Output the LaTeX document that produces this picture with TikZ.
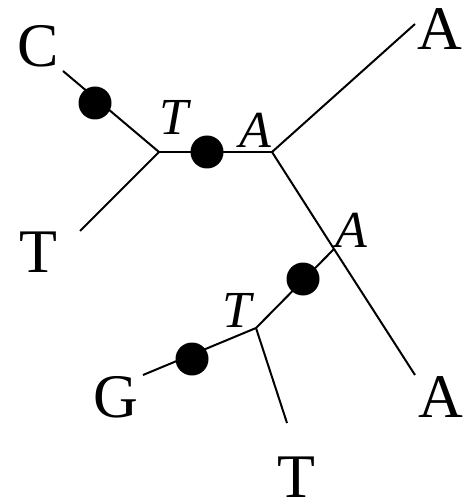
\documentclass[tikz,border=0pt]{standalone}
\usepackage{fontspec}
\setmainfont{Liberation Serif}
\begin{document}
\begin{tikzpicture}[x=1pt,y=-1pt,
  edge/.style={line width=2pt},
  dotmark/.style={circle,fill=black,inner sep=0pt,minimum size=33pt},
  leaf/.style={inner sep=0pt,anchor=base,font=\fontsize{62}{70}\selectfont},
  anc/.style={inner sep=0pt,anchor=base,font=\fontsize{52}{60}\selectfont\itshape}]
\useasboundingbox (0,0) rectangle (466,502);
% internal nodes
\coordinate (n1) at (159,152);
\coordinate (n2) at (272,152);
\coordinate (n3) at (334,249);
\coordinate (n4) at (256,328);
% leaf ends
\coordinate (eC) at (63,71);
\coordinate (eT1) at (80,231);
\coordinate (eA1) at (415,24);
\coordinate (eA2) at (415,375);
\coordinate (eG) at (143,375);
\coordinate (eT2) at (287,423);
% edges
\draw[edge] (eC) -- (n1);
\draw[edge] (eT1) -- (n1);
\draw[edge] (n1) -- (n2);
\draw[edge] (n2) -- (eA1);
\draw[edge] (n2) -- (n3);
\draw[edge] (n3) -- (eA2);
\draw[edge] (n3) -- (n4);
\draw[edge] (n4) -- (eG);
\draw[edge] (n4) -- (eT2);
% mutation dots
\node[dotmark] (d1) at (95,103) {};
\node[dotmark] (d2) at (207,152) {};
\node[dotmark] (d3) at (303,279) {};
\node[dotmark] (d4) at (192,359) {};
% leaf labels
\node[leaf] (lC) at (38,67) {C};
\node[leaf] (lT1) at (38,272) {T};
\node[leaf] (lA1) at (440,50) {A};
\node[leaf] (lA2) at (441,417) {A};
\node[leaf] (lG) at (116,417) {G};
\node[leaf] (lT2) at (296,497) {T};
% ancestral labels
\node[anc] (aT1) at (174,135) {T};
\node[anc] (aA1) at (255,148) {A};
\node[anc] (aA2) at (351,247) {A};
\node[anc] (aT2) at (237,327) {T};
\end{tikzpicture}
\end{document}
